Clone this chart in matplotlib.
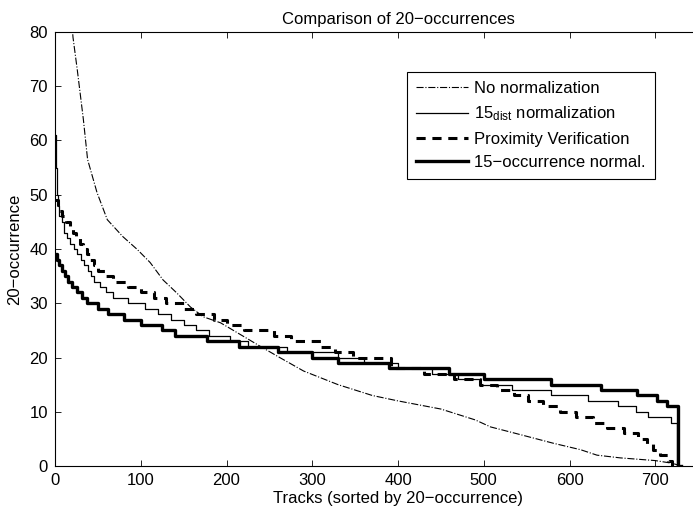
import matplotlib
matplotlib.use("Agg")
import matplotlib.pyplot as plt

plt.rcParams["font.family"] = ["Liberation Sans", "DejaVu Sans"]
plt.rcParams["mathtext.default"] = "regular"

# No normalization (dash-dot), read as points along the curve
none_x = [0, 10, 18, 21, 26, 33, 38, 49, 61, 79, 96, 111, 126, 142, 158, 173, 193, 208,
          240, 262, 290, 330, 370, 400, 450, 490, 508, 535, 581, 613, 632, 659, 700, 720, 730]
none_y = [150, 110, 85, 79, 73, 64, 56.5, 50.4, 45.4, 42.3, 39.9, 37.5, 34.3, 31.9, 29.3, 27.5,
          26.4, 25, 22, 20, 17.5, 15, 13, 12, 10.5, 8.5, 7.2, 6.1, 4.2, 3, 2, 1.5, 1, 0.5, 0]

# 15_dist normalization (thin solid), step starts
dist_x = [0, 1, 2, 3, 5, 8, 11, 14, 18, 22, 26, 30, 34, 38, 42, 46, 52, 60, 68, 85, 105, 120,
          135, 150, 165, 180, 204, 225, 270, 330, 360, 400, 440, 470, 496, 533, 578, 621, 656,
          677, 692, 718, 725, 728]
dist_y = [61, 55, 50, 48, 46, 45, 43, 42, 41, 40, 39, 38, 37, 36, 35, 34, 33, 32, 31, 30, 29, 28,
          27, 26, 25, 24, 23, 22, 21, 20, 19, 18, 17, 16, 15, 14, 13, 12, 11, 10, 9, 8, 0, 0]

# Proximity Verification (dashed), step starts
prox_x = [0, 3, 8, 13, 17, 21, 25, 29, 33, 37, 41, 45, 50, 58, 68, 85, 100, 115, 130, 150, 165,
          185, 200, 220, 255, 275, 310, 327, 347, 392, 430, 465, 496, 516, 535, 552, 569, 589,
          607, 627, 644, 663, 680, 690, 697, 705, 715, 720]
prox_y = [49, 47, 46, 45, 44, 43, 42, 41, 40, 39, 38, 37, 36, 35, 34, 33, 32, 31, 30, 29, 28,
          27, 26, 25, 24, 23, 22, 21, 20, 18, 17, 16, 15, 14, 13, 12, 11, 10, 9, 8, 7, 6, 5, 4,
          3, 2, 1, 0]

# 15-occurrence normalization (thick solid), step starts
occ_x = [0, 2, 5, 8, 12, 15, 20, 26, 31, 37, 50, 62, 80, 100, 125, 140, 177, 215, 260, 300,
         330, 390, 460, 500, 578, 637, 679, 702, 714, 727, 730]
occ_y = [39, 38, 37, 36, 35, 34, 33, 32, 31, 30, 29, 28, 27, 26, 25, 24, 23, 22, 21, 20,
         19, 18, 17, 16, 15, 14, 13, 12, 11, 0, 0]

x_ticks = [0, 100, 200, 300, 400, 500, 600, 700]
y_ticks = [0, 10, 20, 30, 40, 50, 60, 70, 80]

fig = plt.figure(figsize=(6.93, 5.12), dpi=100)
ax = fig.add_axes([55 / 693, 46 / 512, 686 / 693, 434 / 512])

ax.plot(none_x, none_y, color="black", linestyle="-.", linewidth=0.8, label="No normalization")
ax.step(dist_x, dist_y, where="post", color="black", linewidth=0.9, label="15$_{dist}$ normalization")
ax.step(prox_x, prox_y, where="post", color="black", linestyle=(0, (3, 2.2)), linewidth=2.2,
        label="Proximity Verification")
ax.step(occ_x, occ_y, where="post", color="black", linewidth=2.4, label="15\u2212occurrence normal.")

ax.set_xlim(0, 800)
ax.set_ylim(0, 80)
ax.set_xticks(x_ticks)
ax.set_yticks(y_ticks)
ax.tick_params(direction="in", top=True, right=True, length=4.5, labelsize=12, width=0.6, pad=5)
for s in ax.spines.values():
    s.set_linewidth(0.8)

ax.set_title("Comparison of 20\u2212occurrences", fontsize=12, pad=6)
ax.set_xlabel("Tracks (sorted by 20\u2212occurrence)", fontsize=12, labelpad=2)
ax.set_ylabel("20\u2212occurrence", fontsize=12, labelpad=5)

leg = ax.legend(loc="upper right", bbox_to_anchor=(655 / 693, 1 - 72 / 512),
                bbox_transform=fig.transFigure, fontsize=12, handlelength=3.1,
                labelspacing=0.5, borderaxespad=0, fancybox=False, framealpha=1,
                edgecolor="black", borderpad=0.55, handletextpad=0.4)
leg.get_frame().set_linewidth(0.8)

fig.savefig("out.png", dpi=100)
